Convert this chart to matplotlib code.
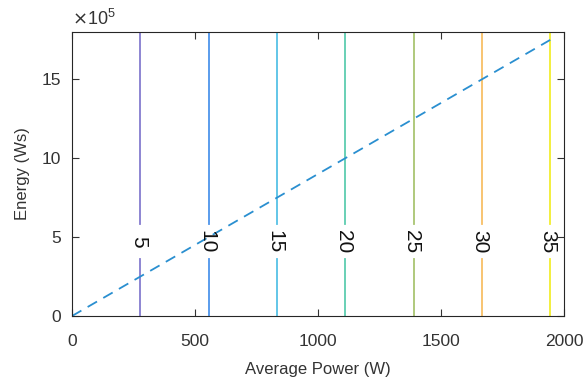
import numpy as np
import matplotlib
matplotlib.use("Agg")
import matplotlib.pyplot as plt

plt.rcParams["font.family"] = ["Liberation Sans", "DejaVu Sans"]

# contour levels and where they sit on the power axis
levels = [5, 10, 15, 20, 25, 30, 35]
level_power = [278, 556, 833, 1111, 1389, 1666, 1944]
level_colors = ["#857ccf", "#4d94ea", "#56c1e6", "#5dcdb0", "#a9c572", "#f8bf66", "#f2ee2e"]
label_energy = 4.7e5

# dashed reference line
line_power = [0, 1944]
line_energy = [0, 1.75e6]

txt = "#333333"
fig = plt.figure(figsize=(5.88, 3.85), dpi=100)
ax = fig.add_axes([72/588, 1-316/385, (564-72)/588, (316-32)/385])

gap = 1.1e5
for lv, p, c in zip(levels, level_power, level_colors):
    ax.plot([p, p], [0, label_energy - gap], color=c, lw=1.3)
    ax.plot([p, p], [label_energy + gap, 1.8e6], color=c, lw=1.3)
    ax.text(p, label_energy, str(lv), rotation=-90, rotation_mode="anchor",
            ha="center", va="center_baseline", fontsize=15, color="#111111")

ax.plot(line_power, line_energy, linestyle=(0, (6, 4)), color="#2a8fd0", lw=1.3)

ax.set_xlim(0, 2000)
ax.set_ylim(0, 1.8e6)
ax.set_xticks([0, 500, 1000, 1500, 2000])
ax.set_yticks([0, 5e5, 10e5, 15e5])
ax.set_yticklabels(["0", "5", "10", "15"])
ax.text(0, 1.0 + 0.012, r"$\times\mathregular{10^5}$", transform=ax.transAxes,
        fontsize=13, color=txt, ha="left", va="bottom")
ax.tick_params(direction="in", top=True, right=True, labelsize=12.5, colors=txt,
               length=5, width=0.8, pad=8)
ax.tick_params(axis="x", pad=13)
for s in ax.spines.values():
    s.set_color("#262626")
    s.set_linewidth(0.8)
ax.set_xlabel("Average Power (W)", fontsize=12, color=txt, labelpad=9)
ax.set_ylabel("Energy (Ws)", fontsize=12, color=txt, labelpad=8)

fig.savefig("out.png", dpi=100)
